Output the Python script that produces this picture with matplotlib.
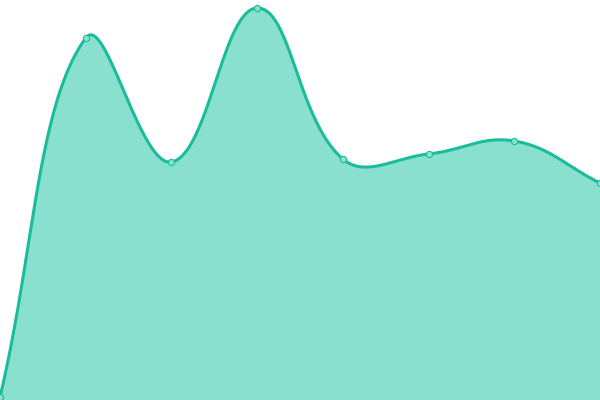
import numpy as np
import matplotlib
matplotlib.use("Agg")
import matplotlib.pyplot as plt

categories = [0, 1, 2, 3, 4, 5, 6, 7]
values = [3, 362, 238, 392, 241, 246, 259, 217]

LINE = "#1abc9c"
FILL = "#8ae0cf"
TENSION = 0.4
W, H = 600, 400
XMAX, YMAX = 7, 400


def spline(xs, ys, n=80):
    # work in pixel space so the control-point distances match the screen
    sxp, syp = W / XMAX, H / YMAX
    p = np.column_stack([np.asarray(xs, float) * sxp, np.asarray(ys, float) * syp])
    m = len(p)
    cin = p.copy()
    cout = p.copy()
    for i in range(m):
        prev = p[i - 1] if i > 0 else p[i]
        nxt = p[i + 1] if i < m - 1 else p[i]
        d01 = np.hypot(*(p[i] - prev))
        d12 = np.hypot(*(nxt - p[i]))
        tot = d01 + d12
        s01 = d01 / tot if tot else 0
        s12 = d12 / tot if tot else 0
        cin[i] = p[i] - TENSION * s01 * (nxt - prev)
        cout[i] = p[i] + TENSION * s12 * (nxt - prev)
    segs = []
    for i in range(m - 1):
        p1, c1, c2, p2 = p[i], cout[i], cin[i + 1], p[i + 1]
        t = np.linspace(0, 1, n, endpoint=(i == m - 2))[:, None]
        segs.append((1 - t) ** 3 * p1 + 3 * (1 - t) ** 2 * t * c1 + 3 * (1 - t) * t ** 2 * c2 + t ** 3 * p2)
    s = np.vstack(segs)
    return s[:, 0] / sxp, s[:, 1] / syp


fig = plt.figure(figsize=(6, 4), dpi=100)
ax = fig.add_axes([0, 0, 1, 1])
cx, cy = spline(categories, values)
ax.fill_between(cx, cy, 0, color=FILL, linewidth=0, zorder=1)
ax.plot(cx, cy, color=LINE, linewidth=2.2, zorder=2, solid_capstyle="round")
ax.plot(categories, values, linestyle="none", marker="o", markersize=4.5,
        markerfacecolor=FILL, markeredgecolor=LINE, markeredgewidth=0.8, zorder=3)
ax.set_xlim(0, XMAX)
ax.set_ylim(0, YMAX)
ax.axis("off")
fig.savefig("out.png", dpi=100)
